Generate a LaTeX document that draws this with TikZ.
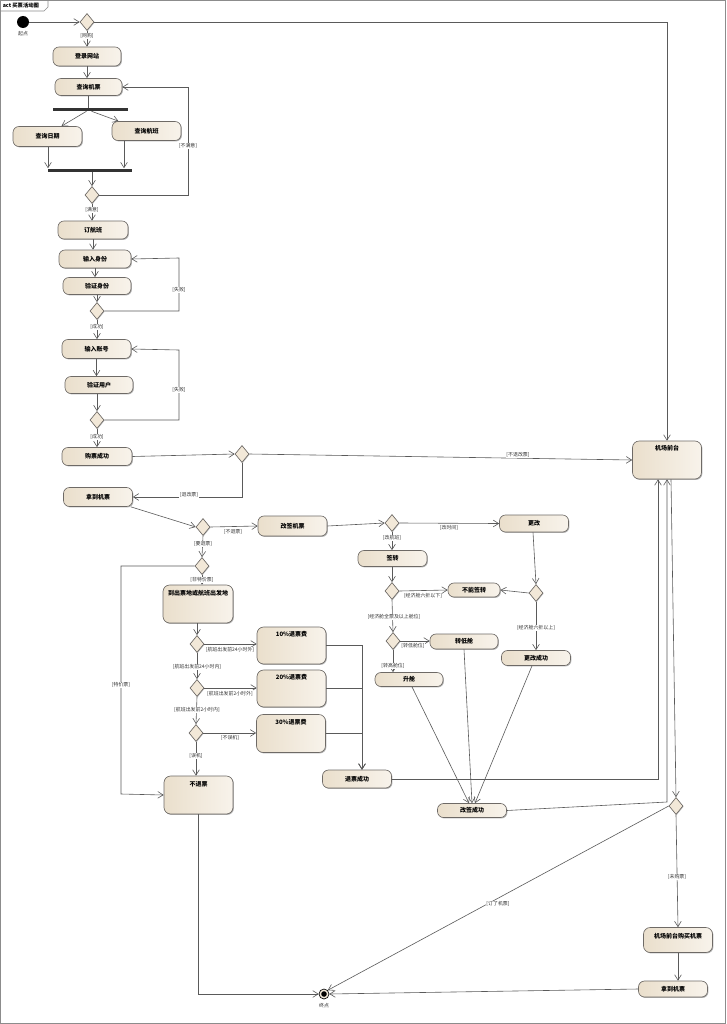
\documentclass[tikz,border=0pt]{standalone}
\usepackage{fontspec}
\newfontfamily\cjk{Noto Sans CJK SC}
\usetikzlibrary{shapes.geometric,arrows.meta,shadows,calc}
\definecolor{edgec}{HTML}{5A5A5A}
\definecolor{nodeL}{HTML}{EADFCC}
\definecolor{nodeR}{HTML}{F8F3EB}
\definecolor{nodeB}{HTML}{6E6A66}
\definecolor{diaF}{HTML}{F2E8D8}
\definecolor{framec}{HTML}{8C8C8C}
\tikzset{
 sz/.style 2 args={minimum width=#1*0.75pt, minimum height=#2*0.75pt},
 act/.style={draw=nodeB, line width=0.5pt, rounded corners=4.5pt, left color=nodeL, right color=nodeR,
   drop shadow={shadow xshift=0.7pt, shadow yshift=-0.7pt, fill=black, opacity=0.3},
   inner sep=0pt, font=\cjk\bfseries\fontsize{4.5}{5.5}\selectfont},
 bigact/.style={act, rounded corners=5pt},
 dec/.style={diamond, draw=nodeB, line width=0.5pt, fill=diaF, inner sep=0pt,
   minimum width=10.5pt, minimum height=12.75pt,
   drop shadow={shadow xshift=0.5pt, shadow yshift=-0.5pt, fill=black, opacity=0.25}},
 bar/.style={fill=black!80, draw=none, inner sep=0pt},
 flow/.style={draw=edgec, line width=0.45pt, -{Straight Barb[length=4pt,width=5pt,line width=0.45pt]}},
 line/.style={draw=edgec, line width=0.45pt},
 guard/.style={font=\cjk\fontsize{3.7}{4.4}\selectfont, fill=white, inner sep=0.4pt, text=black!80},
 boxtxt/.style={font=\cjk\bfseries\fontsize{4.5}{5.5}\selectfont, inner sep=0pt},
 small/.style={font=\cjk\fontsize{3.7}{4.4}\selectfont, inner sep=0pt, text=black!80},
}
\begin{document}
\begin{tikzpicture}[x=0.75pt, y=-0.75pt]
\useasboundingbox (0,0) rectangle (726,1024);
\fill[white] (0,0) rectangle (726,1024);
\draw[framec, line width=0.6pt] (0.5,0.5) rectangle (725.5,1023.5);
\draw[framec, line width=0.5pt] (0.5,11) -- (44,11) -- (48,7) -- (48,0.5);
\node[font=\cjk\bfseries\fontsize{4}{5}\selectfont, inner sep=0pt, anchor=west] (title) at (2.5,5.5) {act 买票活动图};

% start / end
\node[circle, fill=black, minimum size=9pt, inner sep=0pt] (start) at (23,22) {};
\node[small] (startlbl) at (23,34) {起点};
\node[circle, draw=black, line width=0.5pt, fill=diaF, minimum size=7.5pt, inner sep=0pt] (end) at (324,994) {};
\fill[black] (end.center) circle (2.1pt);
\node[small] (endlbl) at (324,1006) {终点};

% left column
\node[dec] (d1) at (87,22) {};
\node[act, sz={68}{19}] (login) at (87,56.5) {登录网站};
\node[act, sz={67}{17}] (q) at (88.5,87) {查询机票};
\node[bar, sz={75}{3}] (fork) at (90.5,109.5) {};
\node[act, sz={69}{20}] (qd) at (47.5,136.5) {查询日期};
\node[act, sz={69}{19}] (qf) at (146.5,131) {查询航班};
\node[bar, sz={84}{3}] (join) at (90,170) {};
\node[dec] (d2) at (92,195) {};
\node[act, sz={70}{18}] (book) at (93,230) {订航班};
\node[act, sz={72}{18}] (inId) at (95,259) {输入身份};
\node[act, sz={68}{17}] (vId) at (97,286) {验证身份};
\node[dec] (d3) at (97,311) {};
\node[act, sz={69}{19}] (inAcc) at (96.5,349) {输入账号};
\node[act, sz={68}{17}] (vUser) at (99,385) {验证用户};
\node[dec] (d4) at (97,420) {};
\node[act, sz={70}{18}] (paid) at (97,456.5) {购票成功};
\node[dec] (d5) at (242,454) {};
\node[bigact, sz={69}{38}] (front) at (667,460) {};
\node[boxtxt] (frontt) at (667,448) {机场前台};
\node[act, sz={69}{19}] (get1) at (98,497) {拿到机票};
\node[dec] (d6) at (203,527) {};
\node[act, sz={69}{20}] (chg) at (292.5,526) {改签机票};

% refund
\node[dec] (d7) at (202,566) {};
\node[bigact, sz={70}{38}] (go) at (198,604) {};
\node[boxtxt] (got) at (198,593) {到出票地或航班出发地};
\node[dec] (d8) at (197,644) {};
\node[bigact, sz={69}{37}] (p10) at (291.5,645.5) {};
\node[boxtxt] (p10t) at (291.5,634) {10\%退票费};
\node[dec] (d9) at (197,688) {};
\node[bigact, sz={69}{37}] (p20) at (291.5,688.5) {};
\node[boxtxt] (p20t) at (291.5,677) {20\%退票费};
\node[dec] (d10) at (196,733) {};
\node[bigact, sz={69}{38}] (p30) at (291,733.5) {};
\node[boxtxt] (p30t) at (291,722) {30\%退票费};
\node[bigact, sz={69}{38}] (norefund) at (198.5,795) {};
\node[boxtxt] (norefundt) at (198.5,784) {不退票};
\node[act, sz={69}{18}] (rsuc) at (357,779) {退票成功};

% change
\node[dec] (d11) at (392,523) {};
\node[act, sz={69}{17}] (alt) at (534,523.5) {更改};
\node[act, sz={69}{16}] (tr) at (392.5,558.5) {签转};
\node[dec] (d12) at (392,591) {};
\node[act, sz={52}{14}] (cannot) at (474,590) {不能签转};
\node[dec] (d13) at (536,593) {};
\node[act, sz={69}{15}] (altok) at (536,658) {更改成功};
\node[dec] (d14) at (393,641) {};
\node[act, sz={68}{15}] (low) at (464,641.5) {转低舱};
\node[act, sz={68}{14}] (up) at (409,679.5) {升舱};
\node[act, sz={69}{14}] (csuc) at (472,810.5) {改签成功};

% airport
\node[dec] (d15) at (676,806) {};
\node[bigact, sz={69}{25}] (buy) at (678,940) {};
\node[boxtxt] (buyt) at (678,936) {机场前台购买机票};
\node[act, sz={69}{16}] (get2) at (673,989) {拿到机票};
\coordinate (k1) at (667,802);

% ---- connectors ----
\draw[flow] (start) -- (d1);
\draw[flow] (d1.east) -| (front.north);
\draw[flow] (d1.south) -- (login.north);
\node[guard] (gweb) at (87,36) {[网购]};
\draw[flow] (login.south) -- (login.south |- q.north);
\draw[line] (q.south) -- (q.south |- fork.north);
\draw[flow] ($(fork.south)+(-4,0)$) -- ($(qd.north)+(14,0)$);
\draw[flow] ($(fork.south)+(1,0)$) -- ($(qf.north)+(-28,0)$);
\draw[flow] ($(qd.south)+(0.5,0)$) -- ($(join.north)+(-42,0)$);
\draw[flow] ($(qf.south)+(-22.5,0)$) -- ($(join.north)+(34,0)$);
\draw[flow] ($(join.south)+(2,0)$) -- (d2.north);
\draw[flow] (d2.east) -- (188,195) -- (188,87) -- (q.east);
\node[guard] (gunsat) at (188,146) {[不满意]};
\draw[flow] (d2.south) -- (d2.south |- book.north);
\node[guard] (gsat) at (92,210) {[满意]};
\draw[flow] (book.south) -- (book.south |- inId.north);
\draw[flow] (inId.south) -- (inId.south |- vId.north);
\draw[flow] (vId.south) -- (d3.north);
\draw[flow] (d3.east) -- (179,311) -- (179,258) -- (inId.east);
\node[guard] (gfail1) at (179,290) {[失败]};
\draw[flow] (d3.south) -- (d3.south |- inAcc.north);
\node[guard] (gok1) at (97,327) {[成功]};
\draw[flow] (inAcc.south) -- (inAcc.south |- vUser.north);
\draw[flow] (d4.north |- vUser.south) -- (d4.north);
\draw[flow] (d4.east) -- (179,420) -- (179,350) -- (inAcc.east);
\node[guard] (gfail2) at (179,390) {[失败]};
\draw[flow] (d4.south) -- (d4.south |- paid.north);
\node[guard] (gok2) at (97,437) {[成功]};
\draw[flow] (paid.east) -- (d5.west);
\draw[flow] (d5.east) -- (front.west);
\node[guard] (gnochg) at (518,454.5) {[不退改票]};
\draw[flow] (d5.south) |- (get1.east);
\node[guard] (gchg) at (189,495) {[退改票]};
\draw[flow] ($(get1.south east)+(-2,0)$) -- (d6.west);
\draw[flow] (d6.east) -- (chg.west);
\node[guard] (gnoref) at (233,532) {[不退票]};
\draw[flow] (d6.south) -- (d7.north);
\node[guard] (gref) at (203,544) {[要退票]};

% refund branch
\draw[flow] (d7.south) -- (d7.south |- go.north);
\node[guard] (gnonsp) at (202,580) {[非特价票]};
\draw[flow] (d7.west) -- (121,566) -- (121,794) -- (norefund.west);
\node[guard] (gsp) at (121,685) {[特价票]};
\draw[flow] (d8.north |- go.south) -- (d8.north);
\draw[flow] (d8.east) -- (d8.east -| p10.west);
\node[guard] (g24out) at (230,650) {[航班出发前24小时外]};
\draw[flow] (d8.south) -- (d9.north);
\node[guard] (g24in) at (197,667) {[航班出发前24小时内]};
\draw[flow] (d9.east) -- (d9.east -| p20.west);
\node[guard] (g2out) at (230,693.5) {[航班出发前2小时外]};
\draw[flow] (d9.south) -- (d10.north);
\node[guard] (g2in) at (197,710) {[航班出发前2小时内]};
\draw[flow] (d10.east) -- (d10.east -| p30.west);
\node[guard] (gnomiss) at (230,738) {[不误机]};
\draw[flow] (d10.south) -- (d10.south |- norefund.north);
\node[guard] (gmiss) at (196,756) {[误机]};
\draw[flow] (p10.east) -| ($(rsuc.north)+(5,0)$);
\draw[flow] (p20.east) -| ($(rsuc.north)+(5,0)$);
\draw[flow] (p30.east) -| ($(rsuc.north)+(5,0)$);
\draw[flow] (rsuc.east) -| ($(front.south)+(-9,0)$);
\draw[flow] (norefund.south) |- (end.west);

% change branch
\draw[flow] (chg.east) -- (d11.west);
\draw[flow] (d11.east) -- (alt.west);
\node[guard] (gtime) at (449,528) {[改时间]};
\draw[flow] (d11.south) -- (d11.south |- tr.north);
\node[guard] (gflight) at (392,538) {[改航班]};
\draw[flow] (d12.north |- tr.south) -- (d12.north);
\draw[flow] (d12.east) -- (cannot.west);
\node[guard] (gbelow) at (423,596) {[经济舱六折以下]};
\draw[flow] ($(alt.south)+(-1,0)$) -- (d13.north);
\draw[flow] (d13.west) -- (cannot.east);
\draw[flow] (d13.south) -- (altok.north);
\node[guard] (gabove) at (536,628) {[经济舱六折以上]};
\draw[flow] (d12.south) -- (d14.north);
\node[guard] (gfull) at (394,617) {[经济舱全票及以上舱位]};
\draw[flow] (d14.east) -- (d14.east -| low.west);
\node[guard] (glow) at (413,646) {[转低舱位]};
\draw[flow] (d14.south) -- (d14.south |- up.north);
\node[guard] (ghigh) at (393,666) {[转高舱位]};
\draw[flow] ($(up.south)+(3,0)$) -- ($(csuc.north)+(-3,0)$);
\draw[flow] (low.south) -- (csuc.north);
\draw[flow] ($(altok.south)+(-4,0)$) -- ($(csuc.north)+(3,0)$);
\draw[flow] (csuc.east) -- (k1) -- (front.south);

% airport branch
\draw[flow] ($(front.south)+(4,0)$) -- (d15.north);
\draw[flow] (d15.south) -- (buy.north);
\node[guard] (gnotb) at (677,877) {[未购票]};
\draw[flow] (buy.south) -- (buy.south |- get2.north);
\draw[flow] (get2.west) -- (end.east);
\draw[flow] (d15.west) -- (end.north east);
\node[guard] (gbought) at (498,904) {[订了机票]};
\end{tikzpicture}
\end{document}
